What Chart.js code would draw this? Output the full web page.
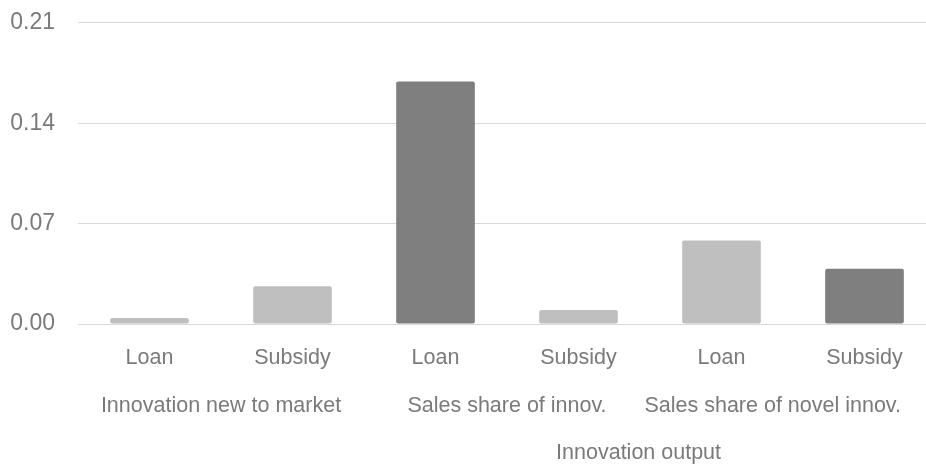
<!DOCTYPE html>
<html>
<head>
<meta charset="utf-8">
<script src="https://cdn.jsdelivr.net/npm/chart.js@4.4.0/dist/chart.umd.min.js"></script>
<style>
  html, body { margin: 0; padding: 0; background: #fff; overflow: hidden; }
  /* canvas is a little bigger than the window, the original chart was cropped */
  #wrap { width: 940px; height: 480px; margin-top: -14px; position: relative; }
</style>
</head>
<body>
<div id="wrap"><canvas id="chart"></canvas></div>
<script>
// chart data
const categories = ['Loan', 'Subsidy', 'Loan', 'Subsidy', 'Loan', 'Subsidy'];
const groups = ['Innovation new to market', 'Sales share of innov.', 'Sales share of novel innov.'];
const axisTitle = 'Innovation output';
const values = [0.0042, 0.0263, 0.169, 0.0097, 0.0582, 0.0386];
const barColors = ['#BFBFBF', '#BFBFBF', '#7F7F7F', '#BFBFBF', '#BFBFBF', '#7F7F7F'];
const yTicks = [0, 0.07, 0.14, 0.21];

const textColor = '#7a7a7a';
const fontFamily = '"Liberation Sans", Arial, sans-serif';
const fontSize = 21.5;

// draws the group labels and the outer axis title under the category ticks
const groupLabels = {
  id: 'groupLabels',
  afterDraw(chart) {
    const { ctx, scales: { x } } = chart;
    ctx.save();
    ctx.fillStyle = textColor;
    ctx.font = fontSize + 'px ' + fontFamily;
    ctx.textAlign = 'center';
    ctx.textBaseline = 'middle';
    const visibleRight = 901; // window is narrower than the canvas
    groups.forEach((g, i) => {
      let cx = (x.getPixelForValue(i * 2) + x.getPixelForValue(i * 2 + 1)) / 2;
      const w = ctx.measureText(g).width;
      if (cx + w / 2 > visibleRight) cx = visibleRight - w / 2;
      ctx.fillText(g, cx, x.top + 82);
    });
    ctx.fillText(axisTitle, x.getPixelForValue(3.42), x.top + 129);
    ctx.restore();
  }
};

new Chart(document.getElementById('chart'), {
  type: 'bar',
  data: {
    labels: categories,
    datasets: [{
      data: values,
      backgroundColor: barColors,
      borderRadius: 2,
      borderSkipped: false,
      barPercentage: 0.55,
      categoryPercentage: 1
    }]
  },
  options: {
    responsive: true,
    maintainAspectRatio: false,
    animation: false,
    layout: { padding: { top: 0, left: 10, right: 4, bottom: 0 } },
    plugins: { legend: { display: false }, tooltip: { enabled: false } },
    scales: {
      x: {
        afterFit: axis => { axis.height = 142; },
        grid: { display: false },
        border: { display: false },
        ticks: { color: textColor, font: { size: fontSize, family: fontFamily }, padding: 13, maxRotation: 0 }
      },
      y: {
        min: 0,
        max: 0.21,
        afterBuildTicks: axis => { axis.ticks = yTicks.map(v => ({ value: v })); },
        afterFit: axis => { axis.width = 68; },
        grid: { color: '#D9D9D9', drawTicks: false },
        border: { display: false },
        ticks: {
          color: textColor,
          font: { size: 23, family: fontFamily },
          padding: 23,
          callback: v => Number(v).toFixed(2)
        }
      }
    }
  },
  plugins: [groupLabels]
});
</script>
</body>
</html>
